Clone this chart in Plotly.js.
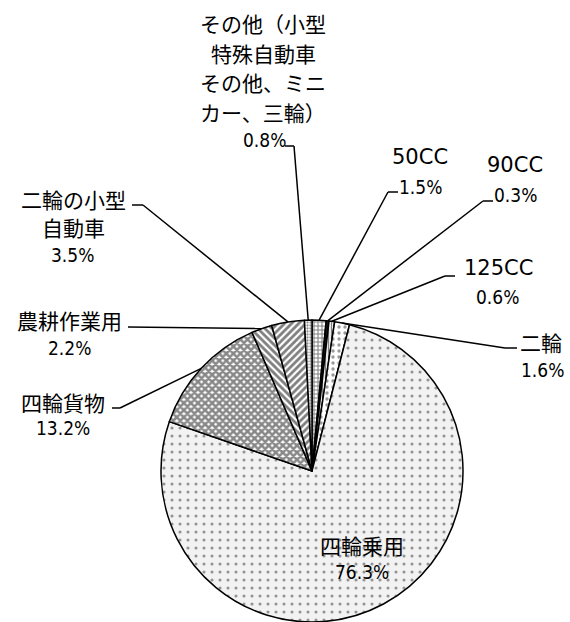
<!DOCTYPE html>
<html>
<head>
<meta charset="utf-8">
<script src="https://cdn.plot.ly/plotly-3.0.1.min.js"></script>
<style>html,body{margin:0;padding:0;background:#fff;}</style>
</head>
<body>
<div id="chart" style="width:570px;height:622px;"></div>
<script>
// ---- data ----
const categories = ['50CC', '90CC', '125CC', '二輪', '四輪乗用', '四輪貨物', '農耕作業用', '二輪の小型自動車', 'その他（小型特殊自動車その他、ミニカー、三輪）'];
const shares = [1.5, 0.3, 0.6, 1.6, 76.3, 13.2, 2.2, 3.5, 0.8];
const nameLines = [
  ['50CC'], ['90CC'], ['125CC'], ['二輪'], ['四輪乗用'], ['四輪貨物'], ['農耕作業用'],
  ['二輪の小型', '自動車'],
  ['その他（小型', '特殊自動車', 'その他、ミニ', 'カー、三輪）']
];
const pctLabels = shares.map(v => v.toFixed(1) + '%');

// ---- styling / layout ----
const W = 570, H = 622;
const domX = [161 / W, 463 / W], domY = [0, 302 / H];
const bgColors = ['#ffffff', '#1a1a1a', '#ffffff', '#ffffff', '#f2f2f2', '#ffffff', '#ffffff', '#ffffff', '#ffffff'];
const patShape = ['+', '|', '|', '.', '.', 'x', '\\', '/', '.'];
const patFg = ['#000', '#000', '#000', '#333', '#333', '#111', '#000', '#000', '#222'];
const patSize = [4, 3, 3, 6, 8, 5, 5, 5, 3];
const patSolid = [0.45, 0.5, 0.45, 0.25, 0.12, 0.75, 0.55, 0.55, 0.45];

// label positions (pixel coords): name line centers, pct center, hook [xa,ya,xb,yb] (xb,yb joins leader)
const labelPos = [
  {names: [[420, 157]], pct: [420, 187], hook: [398, 192, 388, 192], cc: true},
  {names: [[515, 165]], pct: [515, 195], hook: [493, 201, 483, 201], cc: true},
  {names: [[498, 268]], pct: [497, 297], hook: [455, 276, 445, 276], cc: true},
  {names: [[541, 342]], pct: [542, 370], hook: [517, 348, 505, 348]},
  {names: [[362, 545]], pct: [362, 572], hook: null},
  {names: [[63, 402]], pct: [63, 428], hook: [112, 408, 120, 408]},
  {names: [[69, 320]], pct: [69, 348], hook: [128, 327, 128, 327]},
  {names: [[74, 199], [74, 227]], pct: [72, 255], hook: [132, 205, 143, 205]},
  {names: [[263, 23], [263, 53], [263, 82], [263, 112]], pct: [264, 140], hook: [285, 146, 294, 146]}
];

const jpFont = {family: '"Noto Sans CJK JP", "Noto Sans", sans-serif', size: 21, color: '#000'};
const ccFont = {family: '"DejaVu Sans", sans-serif', size: 21, color: '#000'};
const pctFont = {family: '"Liberation Sans Narrow", "DejaVu Sans Condensed", "Roboto", sans-serif', size: 19, color: '#000'};

const px = x => x / W, py = y => 1 - y / H;

// pie geometry from domain
const cx = (domX[0] + domX[1]) / 2 * W;
const cy = H - (domY[0] + domY[1]) / 2 * H;
const rad = Math.min((domX[1] - domX[0]) * W, (domY[1] - domY[0]) * H) / 2;
const total = shares.reduce((a, b) => a + b, 0);

const annotations = [];
const shapes = [];
let cum = 0;
shares.forEach((v, i) => {
  const mid = (cum + v / 2) / total * 2 * Math.PI;
  cum += v;
  const ex = cx + rad * Math.sin(mid), ey = cy - rad * Math.cos(mid);
  const lp = labelPos[i];
  nameLines[i].forEach((t, k) => {
    annotations.push({text: t, x: px(lp.names[k][0]), y: py(lp.names[k][1]), xref: 'paper', yref: 'paper',
      xanchor: 'center', yanchor: 'middle', showarrow: false, font: lp.cc ? ccFont : jpFont});
  });
  annotations.push({text: pctLabels[i], x: px(lp.pct[0]), y: py(lp.pct[1]), xref: 'paper', yref: 'paper',
    xanchor: 'center', yanchor: 'middle', showarrow: false, font: pctFont});
  if (lp.hook) {
    const h = lp.hook;
    const ln = {color: '#000', width: 1.5};
    if (h[0] !== h[2]) shapes.push({type: 'line', xref: 'paper', yref: 'paper', x0: px(h[0]), y0: py(h[1]), x1: px(h[2]), y1: py(h[3]), line: ln});
    shapes.push({type: 'line', xref: 'paper', yref: 'paper', x0: px(h[2]), y0: py(h[3]), x1: px(ex), y1: py(ey), line: ln});
  }
});

const trace = {
  type: 'pie',
  labels: categories,
  values: shares,
  sort: false,
  direction: 'clockwise',
  rotation: 0,
  textinfo: 'none',
  hoverinfo: 'none',
  showlegend: false,
  domain: {x: domX, y: domY},
  marker: {
    colors: bgColors,
    line: {color: '#000', width: 1.5},
    pattern: {shape: patShape, fgcolor: patFg, size: patSize, solidity: patSolid, fillmode: 'overlay'}
  }
};

const layout = {
  width: W, height: H,
  margin: {l: 0, r: 0, t: 0, b: 0},
  paper_bgcolor: '#fff',
  showlegend: false,
  annotations: annotations,
  shapes: shapes
};

Plotly.newPlot('chart', [trace], layout, {staticPlot: true, displayModeBar: false});
</script>
</body>
</html>
